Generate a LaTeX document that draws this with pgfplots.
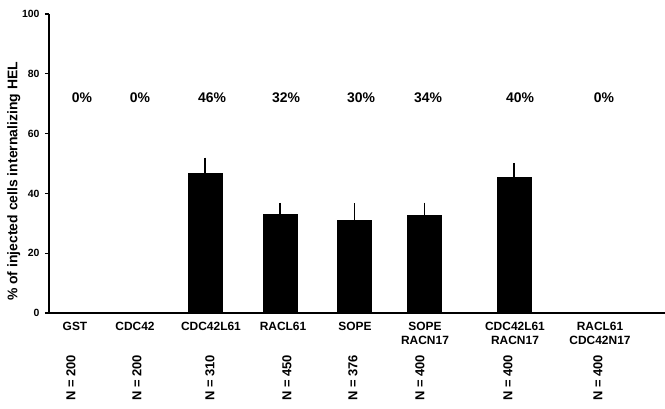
\documentclass[border=0pt]{standalone}
\usepackage{fontspec}
\setmainfont{Liberation Sans}
\usepackage{pgfplots}
\pgfplotsset{compat=1.18}
\begin{document}
\begin{tikzpicture}[x=1bp,y=1bp]
\useasboundingbox (-49bp,-96bp) rectangle (616bp,313bp);
\begin{axis}[
  scale only axis,
  width=616bp, height=299bp,
  xmin=49, xmax=665, ymin=0, ymax=100,
  axis x line*=bottom, axis y line*=left,
  every outer x axis line/.append style={line width=2.4bp, -},
  every outer y axis line/.append style={line width=2.4bp, -},
  x axis line style={line width=2.4bp, -},
  y axis line style={line width=2.4bp, -},
  clip=false,
  ytick={0,20,40,60,80,100},
  tick align=outside,
  major tick length=4bp,
  tick style={line width=1.4bp, black},
  /pgf/number format/assume math mode=true,
  yticklabel style={font=\fontsize{10.5}{12}\selectfont\bfseries, xshift=-2bp},
  xtick={75,135,211,283,355,425,515,600},
  xticklabels={GST, CDC42, CDC42L61, RACL61, SOPE, SOPE\\RACN17, CDC42L61\\RACN17, RACL61\\CDC42N17},
  xticklabel style={font=\fontsize{12}{13.5}\selectfont\bfseries, align=center, anchor=north, yshift=-2bp},
  x tick style={draw=none},
  ylabel={\% of injected cells internalizing HEL},
  ylabel style={font=\fontsize{14}{16}\selectfont\bfseries, at={(axis description cs:-0.057,0.44)}, anchor=center, rotate=0},
]
% groups with 0% (no bar drawn)
\addplot[ybar, bar width=34bp, draw=none, fill=none] table[x=x, y=y] {
x y
75 0
135 0
598 0
};
\addplot[ybar, bar width=34bp, fill=black, draw=black,
  error bars/.cd, y dir=plus, y explicit,
  error bar style={line width=1.8bp, black},
  error mark options={line width=1.8bp, mark size=1.5bp, black}]
  table[x=x, y=y, y error=e] {
x y e
205 46.8 4.7
280 33.1 3.2
354.5 30.9 5.3
424.5 32.6 3.8
514 45.4 4.3
};
\begin{scope}[every node/.style={font=\fontsize{14}{16}\selectfont\bfseries}]
\node at (axis cs:82,72) {0\%};
\node at (axis cs:140,72) {0\%};
\node at (axis cs:212,72) {46\%};
\node at (axis cs:286,72) {32\%};
\node at (axis cs:361,72) {30\%};
\node at (axis cs:428,72) {34\%};
\node at (axis cs:520,72) {40\%};
\node at (axis cs:604,72) {0\%};
\end{scope}
\begin{scope}[every node/.style={font=\fontsize{13}{15}\selectfont\bfseries, rotate=90}]
\node at (axis cs:71,-21.7) {N = 200};
\node at (axis cs:137,-21.7) {N = 200};
\node at (axis cs:210,-21.7) {N = 310};
\node at (axis cs:287,-21.7) {N = 450};
\node at (axis cs:353,-21.7) {N = 376};
\node at (axis cs:420,-21.7) {N = 400};
\node at (axis cs:508,-21.7) {N = 400};
\node at (axis cs:598,-21.7) {N = 400};
\end{scope}
\end{axis}
\end{tikzpicture}
\end{document}
